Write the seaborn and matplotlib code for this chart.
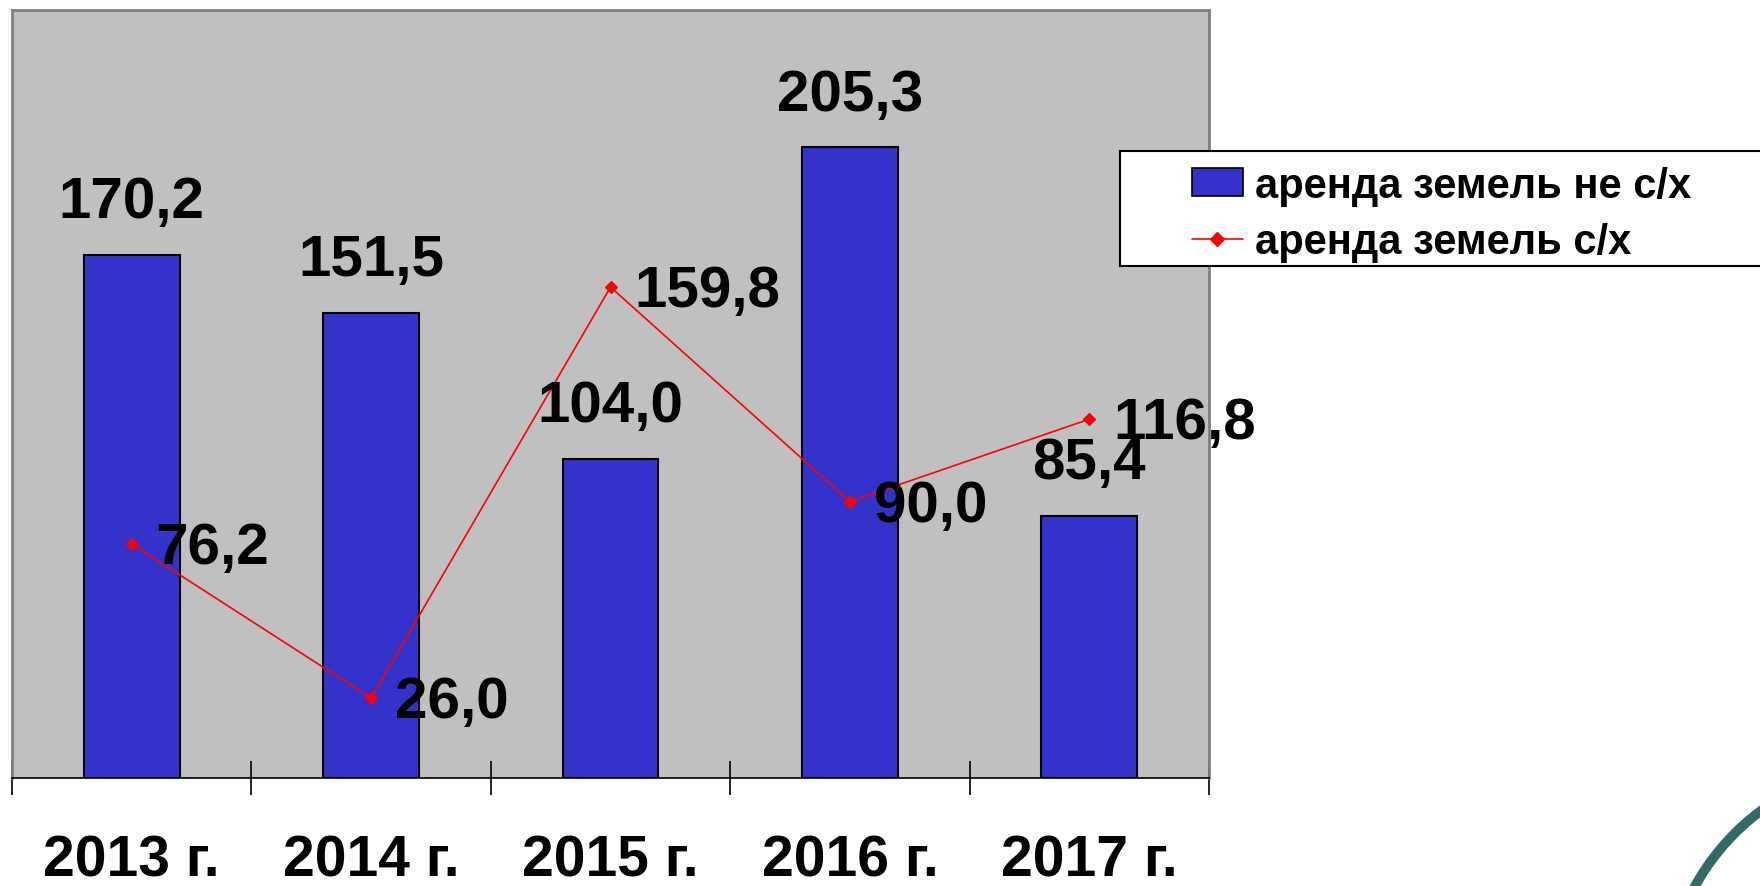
"""Rent income chart: non-agricultural vs agricultural land lease, 2013-2017."""

import matplotlib

matplotlib.use("Agg")
import matplotlib.pyplot as plt
import seaborn as sns
from matplotlib.patches import Arc, Rectangle

years = ["2013 г.", "2014 г.", "2015 г.", "2016 г.", "2017 г."]
non_agri = [170.2, 151.5, 104.0, 205.3, 85.4]
agri = [76.2, 26.0, 159.8, 90.0, 116.8]
series_names = ["аренда земель не с/х", "аренда земель с/х"]

BAR_COLOR = "#3333CC"
LINE_COLOR = "#FF0000"
PLOT_BG = "#C0C0C0"

sns.set_theme(style="white")
plt.rcParams["font.family"] = ["Liberation Sans", "DejaVu Sans"]
plt.rcParams["font.weight"] = "bold"
plt.rcParams["text.color"] = "black"
plt.rcParams["xtick.labelcolor"] = "black"

W, H = 1760, 887
fig = plt.figure(figsize=(W / 100, H / 100), dpi=100)
ax = fig.add_axes([12 / W, 1 - 779 / H, (1209 - 12) / W, (779 - 11) / H])
ax.set_facecolor(PLOT_BG)

sns.barplot(x=years, y=non_agri, color=BAR_COLOR, saturation=1, width=0.4,
            edgecolor="black", linewidth=1.5, ax=ax)
sns.pointplot(x=years, y=agri, color=LINE_COLOR, markers="D", linestyles="-",
              linewidth=1.2, markersize=6, ax=ax)

ax.set_xlim(-0.5, len(years) - 0.5)
ax.set_ylim(0, 250)
ax.set_yticks([])

# value labels
for i, v in enumerate(non_agri):
    ax.annotate(f"{v:.1f}".replace(".", ","), (i, v), xytext=(0, 38),
                textcoords="offset points", ha="center", va="center",
                fontsize=42, fontweight="bold", color="black")
for i, v in enumerate(agri):
    ax.annotate(f"{v:.1f}".replace(".", ","), (i, v), xytext=(17, -3),
                textcoords="offset points", ha="left", va="center",
                fontsize=42, fontweight="bold", color="black")

# category ticks between groups, labels under groups
ax.set_xticks(range(len(years)))
ax.set_xticklabels(years, fontsize=41, fontweight="bold")
ax.tick_params(axis="x", which="major", bottom=True, length=0, pad=40)
ax.set_xticks([i - 0.5 for i in range(len(years) + 1)], minor=True)
ax.tick_params(axis="x", which="minor", bottom=True, length=24, width=1.2,
               direction="inout", color="black")
ax.set_xlabel("")

for side in ["left", "top", "right"]:
    ax.spines[side].set_color("#808080")
    ax.spines[side].set_linewidth(2)
ax.spines["bottom"].set_color("black")
ax.spines["bottom"].set_linewidth(1.2)

# legend box running off the right edge
fig.patches.append(Rectangle((1120 / W, 1 - 267 / H), (W - 1120 + 20) / W,
                             (267 - 152) / H, transform=fig.transFigure,
                             facecolor="white", edgecolor="black",
                             linewidth=1.5, zorder=5))
bar_handle = Rectangle((0, 0), 1, 1, facecolor=BAR_COLOR, edgecolor="black",
                       linewidth=1.2)
line_handle = plt.Line2D([], [], color=LINE_COLOR, marker="D", markersize=7,
                         linewidth=1.2)
leg = fig.legend([bar_handle, line_handle], series_names, loc="upper left",
                 bbox_to_anchor=(1192 / W, 1 - 167 / H), frameon=False,
                 borderpad=0, borderaxespad=0, handlelength=1.22,
                 handleheight=0.65, handletextpad=0.29, labelspacing=0.39,
                 prop={"weight": "bold", "size": 30})
leg.set_zorder(6)

# decorative arc from the slide template
fig.patches.append(Arc((1900 / W, 1 - 1000 / H), 2 * 234 / W, 2 * 234 / H,
                       transform=fig.transFigure, color="#326A66",
                       linewidth=7, zorder=4))

fig.savefig("out.png", dpi=100)
